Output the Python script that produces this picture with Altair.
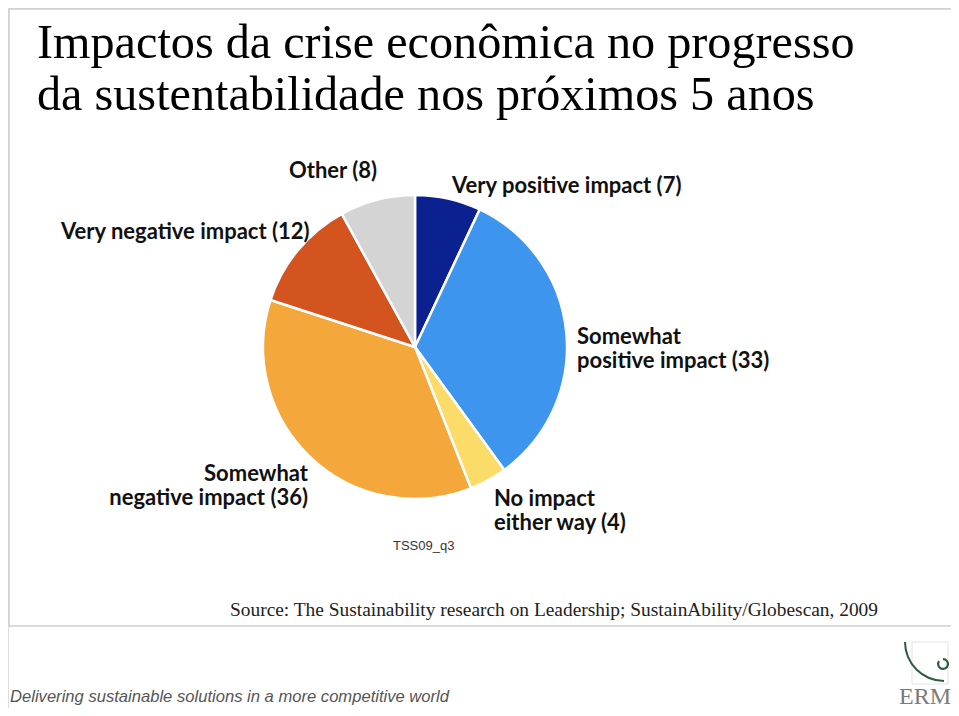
import altair as alt
import pandas as pd
import math

# ---- data ----
categories = ["Very positive impact", "Somewhat positive impact", "No impact either way",
              "Somewhat negative impact", "Very negative impact", "Other"]
values = [7, 33, 4, 36, 12, 8]
colors = ["#0b2190", "#3e95ee", "#fcdc68", "#f4a83c", "#d3541e", "#d4d4d4"]

title_lines = ["Impactos da crise econômica no progresso",
               "da sustentabilidade nos próximos 5 anos"]
source_text = "Source: The Sustainability research on Leadership; SustainAbility/Globescan, 2009"
footer_text = "Delivering sustainable solutions in a more competitive world"
code_text = "TSS09_q3"
logo_text = "ERM"

label_other = "Other (8)"
label_vpos = "Very positive impact (7)"
label_vneg = "Very negative impact (12)"
label_spos = ["Somewhat", "positive impact (33)"]
label_sneg = ["Somewhat", "negative impact (36)"]
label_none = ["No impact", "either way (4)"]

df = pd.DataFrame({"category": categories, "value": values, "idx": list(range(len(values)))})

W, H = 943, 700
OFF = 8  # page margin; chart coords = page coords - 8

LABEL_FONT = "Lato, sans-serif"
LS = 22

pie = alt.Chart(df).mark_arc(stroke="white", strokeWidth=2.5).encode(
    theta=alt.Theta("value:Q", stack=True),
    order=alt.Order("idx:Q"),
    color=alt.Color("category:N", scale=alt.Scale(domain=categories, range=colors), legend=None),
    x=alt.value(415 - OFF),
    y=alt.value(347 - OFF),
    radius=alt.value(152),
)

base = alt.Chart(pd.DataFrame({"k": [0]}))

def txt(text, x, y, size, font=LABEL_FONT, weight="bold", align="left", color="#111",
        style="normal", lh=None, baseline="alphabetic"):
    kw = dict(text=text, fontSize=size, font=font, fontWeight=weight, align=align,
              color=color, fontStyle=style, baseline=baseline)
    if lh is not None:
        kw["lineHeight"] = lh
    return base.mark_text(**kw).encode(x=alt.value(x - OFF), y=alt.value(y - OFF))

border = base.mark_rect(fill=None, stroke="#cfcfcf", strokeWidth=1.5).encode(
    x=alt.value(1), x2=alt.value(952 - OFF), y=alt.value(1), y2=alt.value(626 - OFF)
)

# ERM logo (decorative)
logo_grid = base.mark_rect(fill=None, stroke="#e2e2e2", strokeWidth=1).encode(
    x=alt.value(912 - OFF), x2=alt.value(948 - OFF), y=alt.value(642 - OFF), y2=alt.value(684 - OFF)
)
logo_curve = base.mark_arc(fill="#2d5c3f", theta=math.pi, theta2=1.5 * math.pi,
                           radius=40, radius2=38).encode(
    x=alt.value(944 - OFF), y=alt.value(642 - OFF)
)
logo_spiral = base.mark_arc(fill="#2d5c3f", theta=0.0, theta2=1.7 * math.pi,
                            radius=6, radius2=3.8).encode(
    x=alt.value(943 - OFF), y=alt.value(664 - OFF)
)

layers = [
    border,
    pie,
    txt(title_lines, 37, 58, 48.2, font="Liberation Serif", weight="normal", color="#000", lh=52),
    txt(label_other, 289, 178, LS),
    txt(label_vpos, 452, 193, LS),
    txt(label_vneg, 61, 239, LS),
    txt(label_spos, 577, 344, LS, lh=24),
    txt(label_sneg, 308, 481, LS, align="right", lh=24),
    txt(label_none, 494, 506, LS, lh=24),
    txt(code_text, 393, 550, 13, font="Liberation Sans", weight="normal", color="#333"),
    txt(source_text, 230, 616, 19.4, font="Liberation Serif", weight="normal", color="#222"),
    txt(footer_text, 10, 702, 16.6, font="Liberation Sans", weight="normal", color="#555", style="italic"),
    logo_grid,
    logo_curve,
    logo_spiral,
    txt(logo_text, 951, 704, 24, font="Liberation Serif", weight="normal", color="#7a7a7a", align="right"),
]

chart = alt.layer(*layers).properties(
    width=W, height=H, autosize=alt.AutoSizeParams(type="none"), padding=0
).configure_view(stroke=None).configure(background="white")

chart.save("out.html", embed_options={"renderer": "svg", "actions": False})
